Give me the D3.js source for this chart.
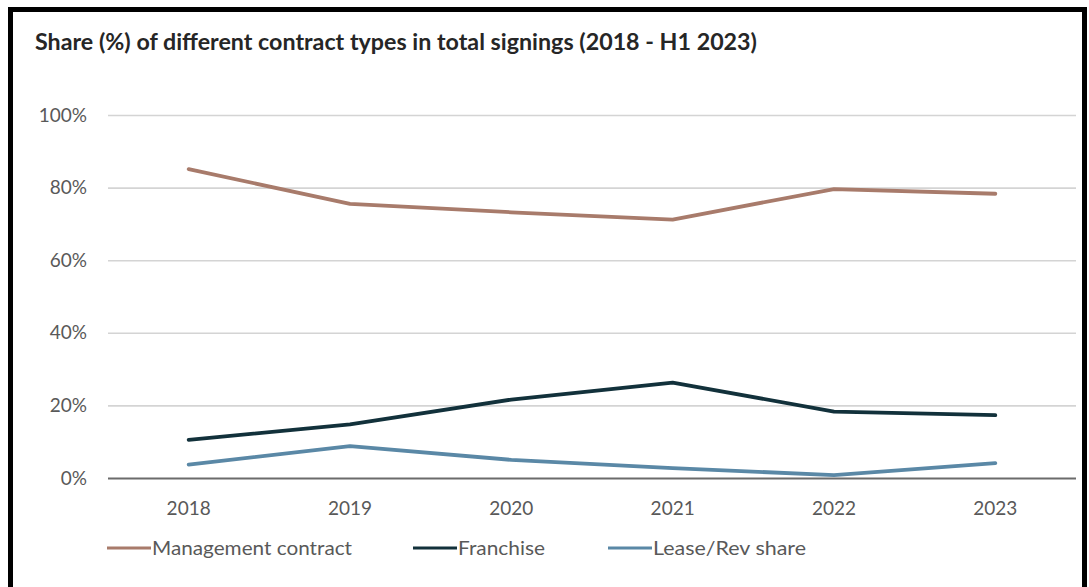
<!DOCTYPE html>
<html>
<head>
<meta charset="utf-8">
<script src="https://cdn.jsdelivr.net/npm/d3@7"></script>
<style>
  body { margin: 0; background: #fff; }
  svg { display: block; font-family: "Lato", "Open Sans", sans-serif; }
</style>
</head>
<body>
<svg id="chart" width="1089" height="587"></svg>
<script>
"use strict";

var years = ["2018", "2019", "2020", "2021", "2022", "2023"]
var management = [85.1, 75.5, 73.2, 71.2, 79.6, 78.3]
var franchise = [10.5, 14.8, 21.6, 26.3, 18.3, 17.3]
var leaseRev = [3.7, 8.8, 5.0, 2.7, 0.8, 4.1]
var yTicks = [0, 20, 40, 60, 80, 100]
var seriesNames = ["Management contract", "Franchise", "Lease/Rev share"]
var seriesColors = ["#a87b6b", "#12313b", "#5a88a6"]

var svg = d3.select("#chart")

// black frame round the chart
svg.append("rect")
    .attr("x", 10.5).attr("y", 9.5)
    .attr("width", 1074).attr("height", 590)
    .attr("fill", "none")
    .attr("stroke", "#000")
    .attr("stroke-width", 5)

svg.append("text")
    .attr("x", 35).attr("y", 50)
    .attr("font-size", 22)
    .attr("font-weight", "bold")
    .attr("fill", "#262626")
    .attr("textLength", 722)
    .attr("lengthAdjust", "spacingAndGlyphs")
    .text("Share (%) of different contract types in total signings (2018 - H1 2023)")

var plotLeft = 108, plotRight = 1076, plotTop = 115, plotBottom = 478

var x = d3.scaleBand().domain(years).range([plotLeft, plotRight])
var y = d3.scaleLinear().domain([0, 100]).range([plotBottom, plotTop])

function createLine() {
    return d3.line()
        .x((d, i) => x(years[i]) + x.bandwidth() / 2)
        .y(d => y(d))
}

// gridlines
var yAxis = d3.axisLeft(y)
    .tickValues(yTicks)
    .tickSize(-(plotRight - plotLeft))
    .tickPadding(21)
    .tickFormat(d => d + "%")

var gy = svg.append("g")
    .attr("transform", "translate(" + plotLeft + ",0)")
    .call(yAxis)
gy.select(".domain").remove()
gy.selectAll(".tick line")
    .attr("stroke", d => d === 0 ? "#6b6b6b" : "#d4d4d4")
    .attr("stroke-width", d => d === 0 ? 2 : 1.6)
gy.selectAll(".tick text")
    .attr("font-size", 19)
    .attr("fill", "#595959")
    .attr("font-family", "Lato, sans-serif")

var xAxis = d3.axisBottom(x).tickSize(0).tickPadding(24)
var gx = svg.append("g")
    .attr("transform", "translate(0," + plotBottom + ")")
    .call(xAxis)
gx.select(".domain").remove()
gx.selectAll(".tick text")
    .attr("font-size", 19)
    .attr("fill", "#595959")
    .attr("font-family", "Lato, sans-serif")

var allSeries = [management, franchise, leaseRev]
var line = createLine()

allSeries.forEach(function (vals, k) {
    svg.append("path")
        .datum(vals)
        .attr("fill", "none")
        .attr("stroke", seriesColors[k])
        .attr("stroke-width", 3.8)
        .attr("stroke-linejoin", "round")
        .attr("stroke-linecap", "round")
        .attr("d", line)
})

// legend
var legendX = [107, 413, 608]
var legendWidths = [200, 87, 153]
var legend = svg.append("g").attr("transform", "translate(0,548)")
seriesNames.forEach(function (name, k) {
    legend.append("line")
        .attr("x1", legendX[k]).attr("x2", legendX[k] + 44)
        .attr("y1", 0).attr("y2", 0)
        .attr("stroke", seriesColors[k])
        .attr("stroke-width", 3)
    legend.append("text")
        .attr("x", legendX[k] + 45)
        .attr("y", 0)
        .attr("dy", "0.35em")
        .attr("font-size", 19)
        .attr("fill", "#595959")
        .attr("textLength", legendWidths[k])
        .attr("lengthAdjust", "spacingAndGlyphs")
        .text(name)
})
</script>
</body>
</html>
